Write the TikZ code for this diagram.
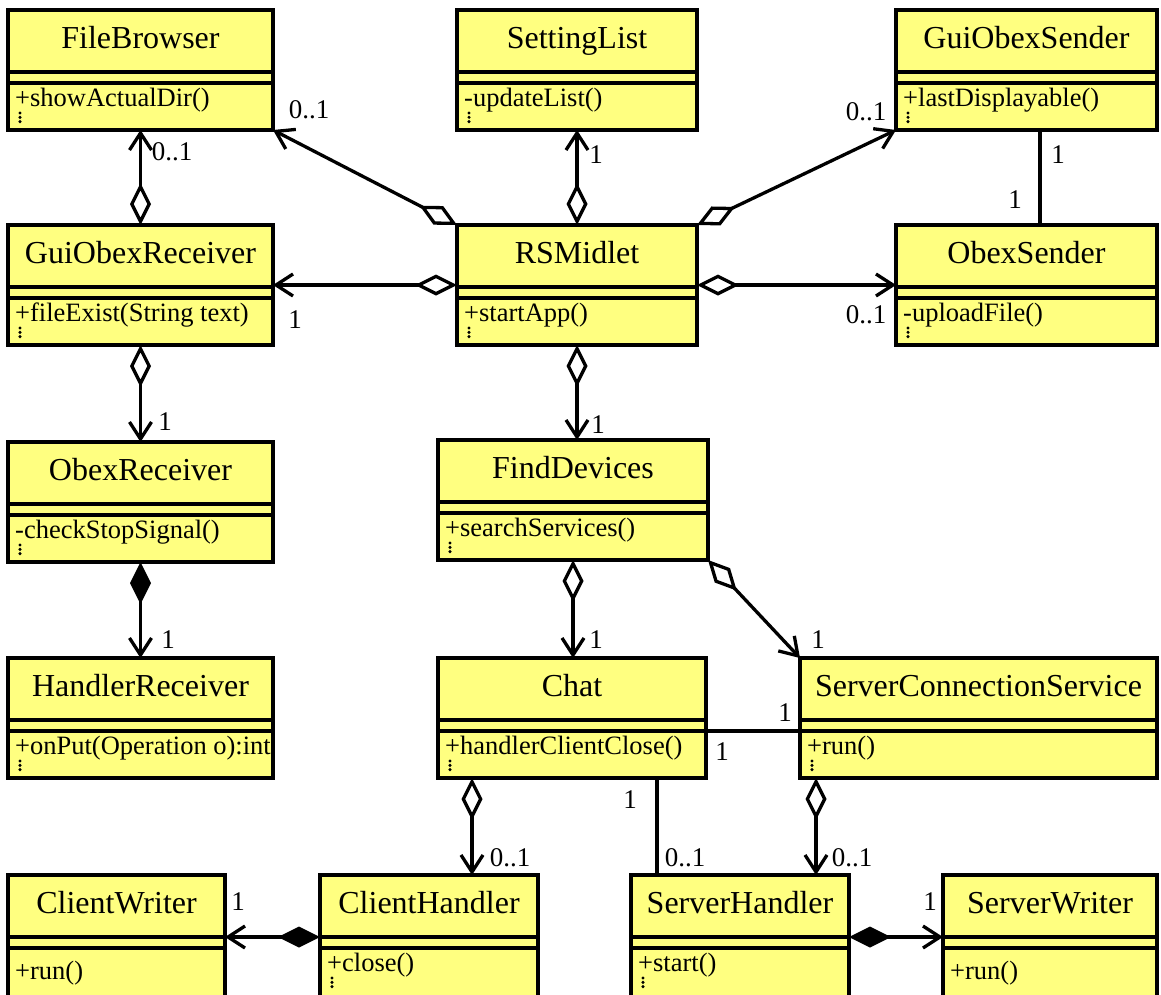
\documentclass[tikz,border=0pt]{standalone}
\usepackage{fontspec}
\setmainfont{Liberation Serif}
\usetikzlibrary{arrows.meta}
\definecolor{classyellow}{RGB}{255,255,128}

% #1 name, #2 left, #3 top, #4 right, #5 bottom, #6 class name, #7 operation, #8 operation baseline offset
\newcommand\umlclass[8]{%
  \node[classbox, minimum width={(#4-#2)*1pt}, minimum height={(#5-#3)*1pt}]
    (#1) at ({(#2+#4)/2},{(#3+#5)/2}) {};
  \coordinate (#1-h) at ({#2},{#3+62});
  \coordinate (#1-s) at ({#2},{#3+73});
  \draw[sepline] (#1-h) -- (#1-h -| #1.east);
  \draw[sepline] (#1-s) -- (#1-s -| #1.east);
  \node[titletext] (#1-t) at ({(#2+#4)/2},{#3+38}) {#6};
  \node[membertext] (#1-m) at ({#2+7},{#3+#8}) {#7};
}
% three small dots under the operations
\newcommand\memberdots[2]{%
  \foreach \k in {0,1,2}{\fill ({#1+12},{#2+103+4.3*\k}) circle (1.7pt);}
}

\begin{document}
\begin{tikzpicture}[x=1pt,y=-1pt,
  classbox/.style={draw, line width=4pt, fill=classyellow, inner sep=0pt, outer sep=0pt},
  sepline/.style={line width=4pt},
  titletext/.style={anchor=base, inner sep=0pt, font=\fontsize{32}{32}\selectfont},
  membertext/.style={anchor=base west, inner sep=0pt, font=\fontsize{26.5}{26.5}\selectfont},
  mult/.style={inner sep=0pt, font=\fontsize{27}{27}\selectfont},
  link/.style={line width=3.3pt},
  aggr/.style={link, {Diamond[open,length=42pt,width=21pt]}-{Straight Barb[length=17pt,width=22pt]}},
  comp/.style={link, {Diamond[length=42pt,width=21pt]}-{Straight Barb[length=17pt,width=22pt]}},
]
\useasboundingbox (0,0) rectangle (1161,994);
\clip (0,0) rectangle (1161,994);

% classes
\umlclass{fb}{8}{10}{273}{130}{FileBrowser}{+showActualDir()}{96}
\memberdots{8}{10}
\umlclass{sl}{457}{10}{697}{130}{SettingList}{-updateList()}{96}
\memberdots{457}{10}
\umlclass{gos}{896}{10}{1157}{130}{GuiObexSender}{+lastDisplayable()}{96}
\memberdots{896}{10}
\umlclass{gor}{8}{225}{273}{345}{GuiObexReceiver}{+fileExist(String text)}{96}
\memberdots{8}{225}
\umlclass{rs}{457}{225}{697}{345}{RSMidlet}{+startApp()}{96}
\memberdots{457}{225}
\umlclass{osd}{896}{225}{1157}{345}{ObexSender}{-uploadFile()}{96}
\memberdots{896}{225}
\umlclass{orc}{8}{442}{273}{562}{ObexReceiver}{-checkStopSignal()}{96}
\memberdots{8}{442}
\umlclass{fd}{438}{440}{708}{560}{FindDevices}{+searchServices()}{96}
\memberdots{438}{440}
\umlclass{hr}{8}{658}{273}{778}{HandlerReceiver}{+onPut(Operation o):int}{96}
\memberdots{8}{658}
\umlclass{chat}{438}{658}{706}{778}{Chat}{+handlerClientClose()}{96}
\memberdots{438}{658}
\umlclass{scs}{800}{658}{1157}{778}{ServerConnectionService}{+run()}{96}
\memberdots{800}{658}
\umlclass{cw}{8}{875}{225}{1010}{ClientWriter}{+run()}{104}
\umlclass{ch}{320}{875}{538}{1010}{ClientHandler}{+close()}{96}
\memberdots{320}{875}
\umlclass{sh}{631}{875}{849}{1010}{ServerHandler}{+start()}{96}
\memberdots{631}{875}
\umlclass{sw}{943}{875}{1157}{1010}{ServerWriter}{+run()}{104}

% associations
\draw[aggr] (rs.north west) -- (fb.south east);
\draw[aggr] (rs.north) -- (sl.south);
\draw[aggr] (rs.north east) -- (gos.south west);
\draw[link] ([xshift=144pt]gos.south west) -- ([xshift=144pt]gos.south west |- osd.north);
\draw[aggr] (rs.west) -- (rs.west -| gor.east);
\draw[aggr] (rs.east) -- (rs.east -| osd.west);
\draw[aggr] (gor.north) -- (fb.south);
\draw[aggr] (gor.south) -- (orc.north);
\draw[comp] (orc.south) -- (hr.north);
\draw[aggr] (rs.south) -- (rs.south |- fd.north);
\draw[aggr] (fd.south) -- (fd.south |- chat.north);
\draw[aggr] (fd.south east) -- (scs.north west);
\draw[link] (scs-s) -- (scs-s -| chat.east);
\draw[link] ([xshift=26pt]sh.north west) -- ([xshift=26pt]sh.north west |- chat.south);
\draw[aggr] ([xshift=34pt]chat.south west) -- ([xshift=34pt]chat.south west |- ch.north);
\draw[aggr] ([xshift=16pt]scs.south west) -- ([xshift=16pt]scs.south west |- sh.north);
\draw[comp] (ch-h) -- (ch-h -| cw.east);
\draw[comp] (sh-h -| sh.east) -- (sh-h -| sw.west);

% multiplicities
\node[mult] (m1) at (309,110) {0..1};
\node[mult] (m2) at (172,152) {0..1};
\node[mult] (m3) at (596,155) {1};
\node[mult] (m4) at (866,112) {0..1};
\node[mult] (m5) at (1058,155) {1};
\node[mult] (m6) at (1015,200) {1};
\node[mult] (m7) at (295,320) {1};
\node[mult] (m8) at (866,315) {0..1};
\node[mult] (m9) at (165,422) {1};
\node[mult] (m10) at (168,640) {1};
\node[mult] (m11) at (598,425) {1};
\node[mult] (m12) at (596,640) {1};
\node[mult] (m13) at (818,640) {1};
\node[mult] (m14) at (785,713) {1};
\node[mult] (m15) at (722,752) {1};
\node[mult] (m16) at (630,800) {1};
\node[mult] (m17) at (685,858) {0..1};
\node[mult] (m18) at (510,858) {0..1};
\node[mult] (m19) at (852,858) {0..1};
\node[mult] (m20) at (238,902) {1};
\node[mult] (m21) at (930,902) {1};
\end{tikzpicture}
\end{document}
